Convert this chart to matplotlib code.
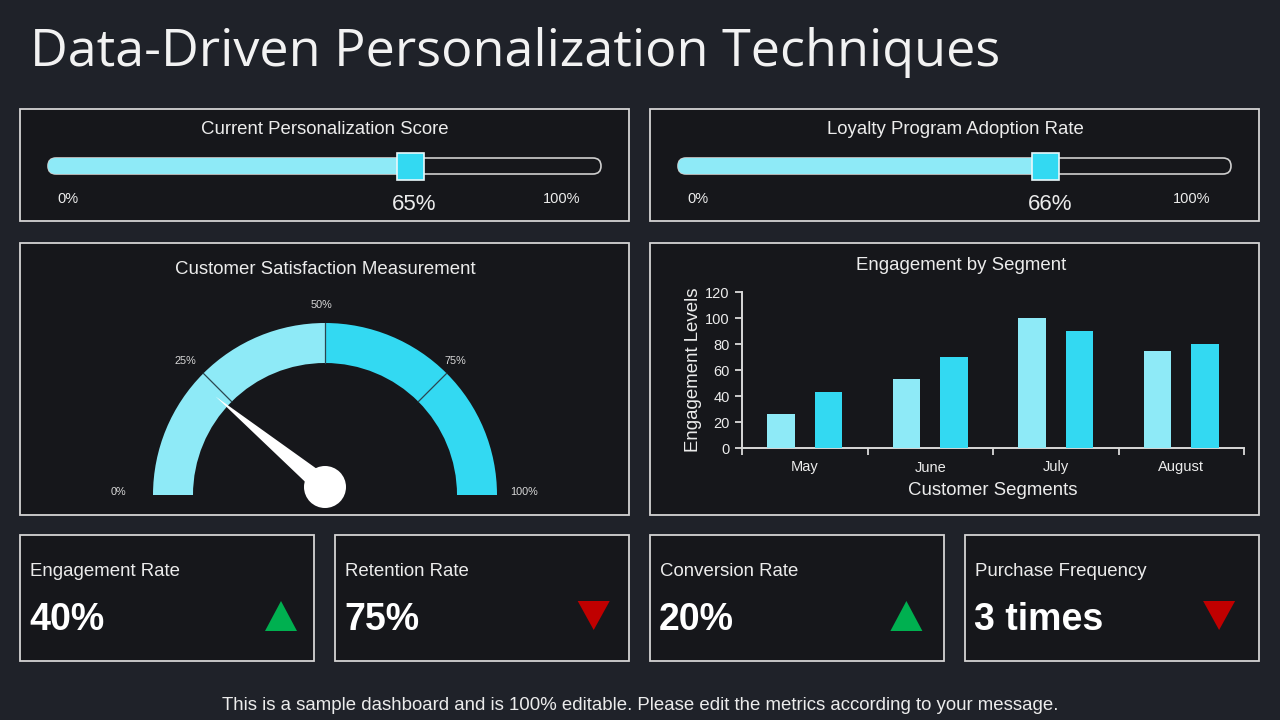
import matplotlib
matplotlib.use("Agg")
import matplotlib.pyplot as plt
from matplotlib.patches import Rectangle, FancyBboxPatch, Wedge, Circle, Polygon
import numpy as np

# ---------------- data ----------------
title = "Data-Driven Personalization Techniques"
slider_titles = ["Current Personalization Score", "Loyalty Program Adoption Rate"]
slider_values = [65, 66]

gauge_title = "Customer Satisfaction Measurement"
gauge_value = 22
gauge_ticks = [0, 25, 50, 75, 100]

bar_title = "Engagement by Segment"
months = ["May", "June", "July", "August"]
series_a = [26, 53, 100, 75]
series_b = [43, 70, 90, 80]
y_ticks = [0, 20, 40, 60, 80, 100, 120]
x_label = "Customer Segments"
y_label = "Engagement Levels"

kpi_labels = ["Engagement Rate", "Retention Rate", "Conversion Rate", "Purchase Frequency"]
kpi_values = ["40%", "75%", "20%", "3 times"]
kpi_trend = ["up", "down", "up", "down"]

footer = "This is a sample dashboard and is 100% editable. Please edit the metrics according to your message."

# ---------------- style ----------------
BG = "#1f2229"
PANEL = "#16171b"
BORDER = "#d4d4d4"
LIGHT = "#8eeaf7"
BRIGHT = "#33d9f2"
TXT = "#ececec"
GREEN = "#00b050"
RED = "#c00000"
FONT = "Liberation Sans"
FS = 13.4

plt.rcParams["font.family"] = [FONT, "DejaVu Sans"]

fig = plt.figure(figsize=(12.8, 7.2), dpi=100)
fig.patch.set_facecolor(BG)
ax = fig.add_axes([0, 0, 1, 1])
ax.set_xlim(0, 1280)
ax.set_ylim(720, 0)
ax.axis("off")
ax.set_facecolor(BG)

def panel(x0, y0, x1, y1):
    ax.add_patch(Rectangle((x0, y0), x1 - x0, y1 - y0, facecolor=PANEL,
                           edgecolor=BORDER, lw=1.3, zorder=1))

# title
ax.text(30, 53, title, fontsize=37.5, color="#f2f2f2", family="Open Sans",
        ha="left", va="center", zorder=5)

# ---------------- sliders ----------------
for i, (st, sv) in enumerate(zip(slider_titles, slider_values)):
    ox = 20 + i * 630
    panel(ox, 109, ox + 609, 221)
    ax.text(ox + 305, 130, st, fontsize=FS, color=TXT, ha="center", va="center", zorder=5)
    tx0, tx1, ty, th = ox + 28, ox + 581, 158, 16
    ax.add_patch(FancyBboxPatch((tx0, ty), tx1 - tx0, th,
                                boxstyle="round,pad=0,rounding_size=8",
                                facecolor=PANEL, edgecolor="#cfcfcf", lw=1.2, zorder=2))
    mx = tx0 + (tx1 - tx0) * sv / 100.0
    ax.add_patch(FancyBboxPatch((tx0, ty), mx - tx0, th,
                                boxstyle="round,pad=0,rounding_size=8",
                                facecolor=LIGHT, edgecolor="none", zorder=3))
    ax.add_patch(Rectangle((mx + 3 - 13.5, ty + 8 - 13.5), 27, 27, facecolor=BRIGHT,
                           edgecolor="#e8f8fb", lw=1.2, zorder=4))
    ax.text(ox + 48, 199, "0%", fontsize=10.5, color=TXT, ha="center", va="center", zorder=5)
    ax.text(ox + 542, 199, "100%", fontsize=10.5, color=TXT, ha="center", va="center", zorder=5)
    ax.text(mx + 7, 205, f"{sv}%", fontsize=16, color=TXT, ha="center", va="center", zorder=5)

# ---------------- gauge ----------------
panel(20, 243, 629, 515)
ax.text(325, 269, gauge_title, fontsize=FS, color=TXT, ha="center", va="center", zorder=5)
gcx, gcy, R, W = 325, 495, 172, 40

def ang(v):  # data-angle in inverted-y axes
    return v * 1.8 - 180

ax.add_patch(Wedge((gcx, gcy), R, ang(0), ang(50), width=W, facecolor=LIGHT,
                   edgecolor="none", zorder=2))
ax.add_patch(Wedge((gcx, gcy), R, ang(50), ang(100), width=W, facecolor=BRIGHT,
                   edgecolor="none", zorder=2))
for v in gauge_ticks[1:-1]:
    a = np.deg2rad(180 - v * 1.8)
    ax.plot([gcx + (R - W) * np.cos(a), gcx + R * np.cos(a)],
            [gcy - (R - W) * np.sin(a), gcy - R * np.sin(a)],
            color="#2b4650", lw=0.9, zorder=3)
label_pos = {0: (118, 492), 25: (185, 361), 50: (321, 305), 75: (455, 361), 100: (524, 492)}
for v in gauge_ticks:
    px, py = label_pos[v]
    ax.text(px, py, f"{v}%", fontsize=7.8, color="#d8d8d8", ha="center", va="center", zorder=5)

hx, hy = 325, 487
a = np.deg2rad(180 - gauge_value * 1.8)
L = 142
tip = (hx + L * np.cos(a), hy - L * np.sin(a))
perp = (np.sin(a), np.cos(a))
bw = 10
ax.add_patch(Polygon([tip, (hx + bw * perp[0], hy + bw * perp[1]),
                      (hx - bw * perp[0], hy - bw * perp[1])],
                     closed=True, facecolor="white", edgecolor="none", zorder=6))
ax.add_patch(Circle((hx, hy), 21, facecolor="white", edgecolor="none", zorder=6))

# ---------------- bar chart panel ----------------
panel(650, 243, 1259, 515)
ax.text(961, 266, bar_title, fontsize=FS, color=TXT, ha="center", va="center", zorder=5)

bax = fig.add_axes([742 / 1280, 1 - 448 / 720, (1244 - 742) / 1280, (448 - 292) / 720])
bax.set_facecolor("none")
xs = np.arange(len(months))
bax.bar(xs - 0.19, series_a, width=0.22, color=LIGHT, zorder=3)
bax.bar(xs + 0.19, series_b, width=0.22, color=BRIGHT, zorder=3)
bax.set_xlim(-0.5, len(months) - 0.5)
bax.set_ylim(0, 120)
bax.set_yticks(y_ticks)
bax.set_xticks(np.arange(len(months) + 1) - 0.5)
bax.set_xticklabels([])
bax.set_xticks(xs, minor=True)
bax.set_xticklabels(months, minor=True)
bax.tick_params(axis="x", which="minor", length=0, pad=9, labelsize=10.5, labelcolor=TXT)
bax.tick_params(axis="x", which="major", length=5, width=1.3, color="#d9d9d9", direction="out")
bax.tick_params(axis="y", length=5, width=1.3, color="#d9d9d9", labelsize=10.5,
                labelcolor=TXT, pad=4)
for s in ["top", "right"]:
    bax.spines[s].set_visible(False)
for s in ["left", "bottom"]:
    bax.spines[s].set_color("#d9d9d9")
    bax.spines[s].set_linewidth(1.4)
bax.set_xlabel(x_label, fontsize=FS, color=TXT)
bax.xaxis.set_label_coords(0.5, -0.215)
bax.set_ylabel(y_label, fontsize=FS, color=TXT)
bax.yaxis.set_label_coords(-0.08, 0.5)

# ---------------- KPI boxes ----------------
for i, (lab, val, tr) in enumerate(zip(kpi_labels, kpi_values, kpi_trend)):
    ox = 20 + i * 315
    panel(ox, 535, ox + 294, 661)
    ax.text(ox + 10, 572, lab, fontsize=FS, color=TXT, ha="left", va="center", zorder=5)
    ax.text(ox + 9, 620, val, fontsize=27, color="white", fontweight="bold",
            ha="left", va="center", zorder=5)
    cx = ox + 261 - 2.3 * i
    if tr == "up":
        pts = [(cx - 16, 631), (cx + 16, 631), (cx, 601)]
        col = GREEN
    else:
        pts = [(cx - 16, 601), (cx + 16, 601), (cx, 630)]
        col = RED
    ax.add_patch(Polygon(pts, closed=True, facecolor=col, edgecolor="none", zorder=5))

ax.text(640, 705, footer, fontsize=FS, color=TXT, ha="center", va="center", zorder=5)

fig.savefig("out.png", dpi=100, facecolor=BG)
